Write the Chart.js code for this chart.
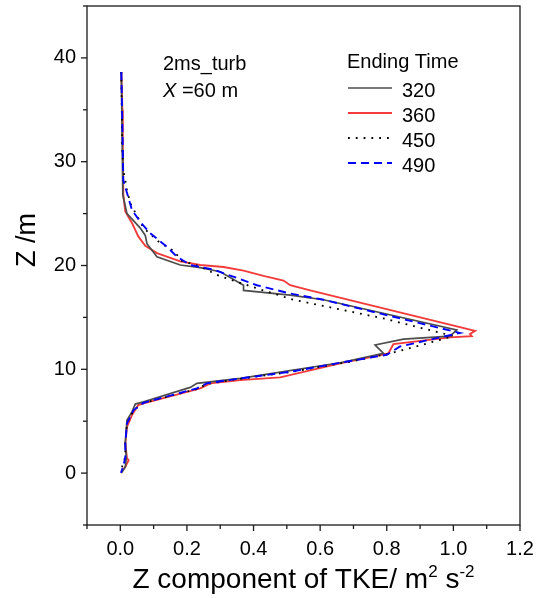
<!DOCTYPE html>
<html>
<head>
<meta charset="utf-8">
<script src="https://cdn.jsdelivr.net/npm/chart.js@4.4.1/dist/chart.umd.min.js"></script>
<style>
  html, body { margin: 0; padding: 0; background: #fff; }
  #wrap { width: 537px; height: 598px; }
</style>
</head>
<body>
<div id="wrap"><canvas id="c" width="537" height="598"></canvas></div>
<script>
// Z-Komponente der TKE bei X = 60 m.
const endingTimes = ['320', '360', '450', '490'];

const z320   = [38.65, 31.1, 26.8, 25.0, 23.6, 22.9, 22.1, 20.85, 20.05, 19.8, 19.4, 18.1, 17.6, 17.15, 16.7, 13.8, 13.2, 12.9, 12.34, 11.54, 10.63, 9.13, 8.65, 8.26, 6.87, 6.65, 5.9, 5.1, 2.9, 1.45, 0.6, 0.0];
const tke320 = [0.003, 0.006, 0.0075, 0.02, 0.06, 0.075, 0.08, 0.11, 0.18, 0.24, 0.30, 0.37, 0.37, 0.51, 0.61, 1.01, 0.99, 0.85, 0.765, 0.79, 0.66, 0.36, 0.23, 0.21, 0.07, 0.045, 0.035, 0.02, 0.015, 0.018, 0.015, 0.003];

const z360   = [38.65, 35.0, 31.1, 26.8, 25.2, 24.1, 22.8, 21.9, 21.2, 20.4, 20.05, 19.85, 19.5, 19.0, 18.55, 18.1, 17.6, 13.7, 13.4, 13.2, 13.08, 12.43, 11.54, 10.57, 9.22, 8.96, 8.65, 8.16, 6.72, 6.55, 5.59, 4.46, 2.86, 1.42, 1.25, 0.6, 0.03];
const tke360 = [0.003, 0.006, 0.0075, 0.009, 0.015, 0.035, 0.054, 0.075, 0.11, 0.18, 0.24, 0.31, 0.37, 0.43, 0.49, 0.51, 0.57, 1.065, 1.05, 1.055, 0.99, 0.82, 0.805, 0.66, 0.48, 0.36, 0.27, 0.24, 0.07, 0.054, 0.035, 0.02, 0.015, 0.02, 0.025, 0.015, 0.002];

const z450   = [38.65, 31.1, 29.2, 27.3, 26.0, 23.6, 22.3, 21.8, 21.3, 20.5, 19.9, 19.1, 18.75, 17.8, 16.7, 15.9, 14.9, 13.2, 12.3, 11.54, 10.73, 9.73, 9.0, 8.58, 8.1, 6.75, 6.07, 4.79, 2.86, 1.55, 0.7, 0.03];
const tke450 = [0.003, 0.006, 0.009, 0.02, 0.03, 0.07, 0.115, 0.14, 0.165, 0.18, 0.24, 0.29, 0.32, 0.41, 0.52, 0.64, 0.79, 1.0, 0.9, 0.81, 0.69, 0.51, 0.34, 0.26, 0.23, 0.07, 0.04, 0.02, 0.015, 0.015, 0.006, 0.003];

const z490   = [38.65, 34.0, 28.2, 27.0, 25.35, 24.2, 23.1, 21.8, 20.85, 20.05, 19.6, 18.8, 18.1, 17.3, 16.7, 13.5, 13.0, 12.2, 11.4, 10.63, 9.76, 9.03, 8.65, 8.16, 6.78, 6.07, 4.79, 2.86, 1.57, 0.77, 0.03];
const tke490 = [0.003, 0.006, 0.009, 0.02, 0.035, 0.06, 0.09, 0.14, 0.17, 0.21, 0.28, 0.35, 0.41, 0.51, 0.61, 1.02, 0.95, 0.84, 0.80, 0.66, 0.51, 0.34, 0.26, 0.23, 0.07, 0.04, 0.02, 0.015, 0.015, 0.01, 0.002];

const xTicksMin = -0.1, xTicksMax = 1.2, xStep = 0.1;
const yTicksMin = -5, yTicksMax = 45, yStep = 5;

const FONT = '"Liberation Sans", Arial, sans-serif';
const pts = (xs, ys) => xs.map((x, i) => ({ x: x, y: ys[i] }));

const series = [
  { label: endingTimes[0], data: pts(tke320, z320), borderColor: '#4d4d4d', borderWidth: 1.7, borderDash: [], order: 2 },
  { label: endingTimes[1], data: pts(tke360, z360), borderColor: '#f23b3b', borderWidth: 1.9, borderDash: [], order: 3 },
  { label: endingTimes[2], data: pts(tke450, z450), borderColor: '#000000', borderWidth: 1.8, borderDash: [1.8, 6], order: 1 },
  { label: endingTimes[3], data: pts(tke490, z490), borderColor: '#0000ff', borderWidth: 1.9, borderDash: [8, 5], order: 0 },
];

// Rahmen, Ticks, Legende und Beschriftung wie im Original (Origin-Stil)
const decor = {
  id: 'decor',
  afterDraw(chart) {
    const ctx = chart.ctx, a = chart.chartArea, sx = chart.scales.x, sy = chart.scales.y;
    ctx.save();
    ctx.strokeStyle = '#1a1a1a';
    ctx.lineWidth = 1.3;
    ctx.strokeRect(a.left, a.top, a.right - a.left, a.bottom - a.top);

    sx.ticks.forEach((t) => {
      const p = sx.getPixelForValue(t.value), len = t.label ? 6 : 4;
      ctx.beginPath(); ctx.moveTo(p, a.bottom); ctx.lineTo(p, a.bottom + len); ctx.stroke();
    });
    sy.ticks.forEach((t) => {
      const p = sy.getPixelForValue(t.value), len = t.label ? 6 : 4;
      ctx.beginPath(); ctx.moveTo(a.left, p); ctx.lineTo(a.left - len, p); ctx.stroke();
    });

    ctx.fillStyle = '#000';
    ctx.textBaseline = 'alphabetic';
    ctx.textAlign = 'left';
    ctx.font = '20px ' + FONT;
    ctx.fillText('2ms_turb', 163, 70);
    ctx.font = 'italic 20px ' + FONT;
    ctx.fillText('X', 163, 97);
    const wx = ctx.measureText('X').width;
    ctx.font = '20px ' + FONT;
    ctx.fillText(' =60 m', 163 + wx, 97);

    ctx.fillText('Ending Time', 347, 68);
    series.forEach((s, i) => {
      const base = 97 + i * 25;
      ctx.beginPath();
      ctx.strokeStyle = s.borderColor;
      ctx.lineWidth = s.borderWidth;
      ctx.setLineDash(s.borderDash);
      ctx.moveTo(348, base - 9); ctx.lineTo(392, base - 9);
      ctx.stroke();
      ctx.setLineDash([]);
      ctx.fillText(s.label, 402, base);
    });

    // Achsentitel
    const big = '28px ' + FONT, small = '17px ' + FONT;
    const parts = [['Z component of TKE/ m', big, 0], ['2', small, -11], [' s', big, 0], ['-2', small, -11]];
    let w = 0;
    parts.forEach((p) => { ctx.font = p[1]; w += ctx.measureText(p[0]).width; });
    let x = (a.left + a.right) / 2 - w / 2;
    parts.forEach((p) => { ctx.font = p[1]; ctx.fillText(p[0], x, 588 + p[2]); x += ctx.measureText(p[0]).width; });

    ctx.translate(35, 240);
    ctx.rotate(-Math.PI / 2);
    ctx.font = '27px ' + FONT;
    ctx.textAlign = 'center';
    ctx.fillText('Z /m', 0, 0);
    ctx.restore();
  },
};

const noPad = (s) => { s.paddingLeft = 0; s.paddingRight = 0; s.paddingTop = 0; s.paddingBottom = 0; };

new Chart(document.getElementById('c').getContext('2d'), {
  type: 'scatter',
  data: {
    datasets: series.map((s) => ({
      label: s.label, data: s.data, showLine: true, fill: false,
      borderColor: s.borderColor, borderWidth: s.borderWidth, borderDash: s.borderDash,
      pointRadius: 0, tension: 0, order: s.order,
    })),
  },
  options: {
    responsive: false, animation: false, devicePixelRatio: 1,
    layout: { padding: { left: 0, right: 17, top: 6, bottom: 0 } },
    plugins: { legend: { display: false }, tooltip: { enabled: false } },
    scales: {
      x: {
        type: 'linear', min: xTicksMin, max: xTicksMax,
        afterFit: (s) => { s.height = 73; noPad(s); },
        border: { display: false },
        grid: { display: false, drawTicks: false },
        ticks: {
          stepSize: xStep, autoSkip: false, maxRotation: 0, padding: 12, color: '#000',
          font: { family: FONT, size: 20 },
          callback: (v) => (Math.round(v * 10) % 2 === 0 ? v.toFixed(1) : ''),
        },
      },
      y: {
        type: 'linear', min: yTicksMin, max: yTicksMax,
        afterFit: (s) => { s.width = 87; noPad(s); },
        border: { display: false },
        grid: { display: false, drawTicks: false },
        ticks: {
          stepSize: yStep, autoSkip: false, padding: 11, color: '#000',
          font: { family: FONT, size: 20 },
          callback: (v) => (v % 10 === 0 ? String(v) : ''),
        },
      },
    },
  },
  plugins: [decor],
});
</script>
</body>
</html>
